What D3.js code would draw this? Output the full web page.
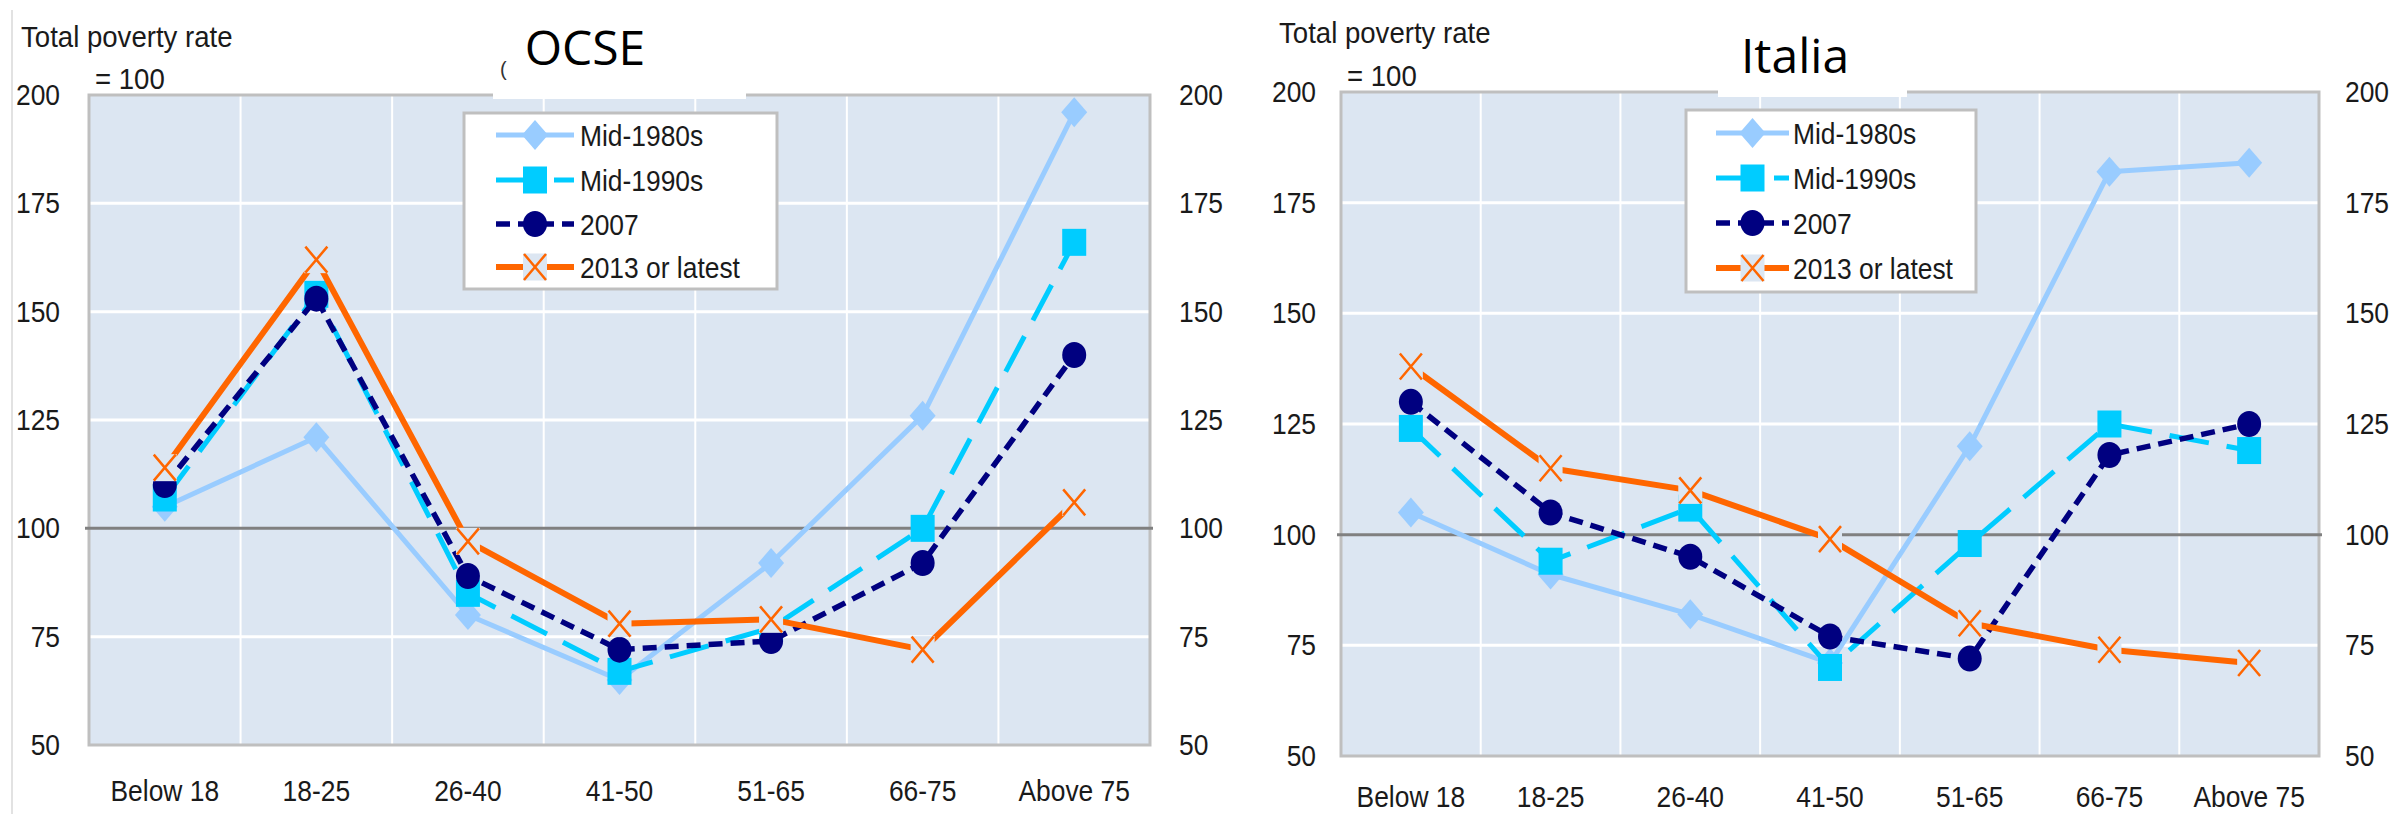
<!DOCTYPE html>
<html>
<head>
<meta charset="utf-8">
<script src="https://cdn.jsdelivr.net/npm/d3@7"></script>
<style>
  html, body { margin: 0; padding: 0; background: #ffffff; }
  svg { display: block; }
</style>
</head>
<body>
<svg id="chart" width="2390" height="814"></svg>
<script>
// ---------------- DATA ----------------
const categories = ["Below 18", "18-25", "26-40", "41-50", "51-65", "66-75", "Above 75"];
const seriesNames = ["Mid-1980s", "Mid-1990s", "2007", "2013 or latest"];
const yTicks = [50, 75, 100, 125, 150, 175, 200];

const ocse1980 = [105, 121, 80, 65, 92, 126, 196];
const ocse1990 = [107, 154, 85, 67, 77, 100, 166];
const ocse2007 = [110, 153, 89, 72, 74, 92, 140];
const ocse2013 = [114, 162, 97, 78, 79, 72, 106];

const ita1980 = [105, 91, 82, 71, 120, 182, 184];
const ita1990 = [124, 94, 106, 70, 98, 125, 119];
const ita2007 = [130, 105, 95, 77, 72, 118, 125];
const ita2013 = [138, 115, 110, 99, 80, 74, 71];

const panelTitles = ["OCSE", "Italia"];
const axisNote1 = "Total poverty rate";
const axisNote2 = "= 100";

// ---------------- STYLE ----------------
const FONT = "'Liberation Sans', Arial, sans-serif";
const FS = 30;
const SX = 0.88; // horizontal condensing of text
const TITLE_FONT = "'Open Sans', 'Noto Sans', sans-serif";
const TXT = "#1a1a1a";
const PLOT_BG = "#dce6f2";
const BORDER = "#bfbfbf";
const styles = [
  { color: "#99ccff", dash: null, marker: "diamond", width: 5 },
  { color: "#00ccff", dash: "40,18", marker: "square", width: 5 },
  { color: "#000080", dash: "14,8", marker: "circle", width: 5.5 },
  { color: "#ff6600", dash: null, marker: "x", width: 6 }
];

const panels = [
  { title: panelTitles[0], data: [ocse1980, ocse1990, ocse2007, ocse2013],
    x0: 89, x1: 1150, yTop: 95, yBot: 745,
    leftLabelX: 60, rightLabelX: 1179, catY: 801,
    noteX: 21, noteY: 47, note2X: 95, note2Y: 89,
    coverX0: 493, coverX1: 746, coverY1: 99, titleX: 585, titleY: 65,
    legX: 464, legY: 113, legW: 313, legH: 176, legRows: [135, 180, 224, 267],
    legLineX0: 496, legLineX1: 574, legTextX: 580 },
  { title: panelTitles[1], data: [ita1980, ita1990, ita2007, ita2013],
    x0: 1341, x1: 2319, yTop: 92, yBot: 756,
    leftLabelX: 1316, rightLabelX: 2345, catY: 807,
    noteX: 1279, noteY: 43, note2X: 1347, note2Y: 86,
    coverX0: 1718, coverX1: 1907, coverY1: 97, titleX: 1795, titleY: 73,
    legX: 1686, legY: 110, legW: 290, legH: 182, legRows: [133, 178, 223, 268],
    legLineX0: 1716, legLineX1: 1789, legTextX: 1793 }
];

const svg = d3.select("#chart");

function addText(g, x, y, str, size, dy, sx) {
  const t = g.append("g").attr("transform", `translate(${x},${y})`)
    .append("text").attr("x", 0).attr("y", 0)
    .attr("transform", `scale(${sx || SX},1)`)
    .attr("font-family", FONT).attr("font-size", size).attr("fill", TXT).text(str);
  if (dy) t.attr("dy", dy);
  return t;
}

// thin left frame line
svg.append("line").attr("x1", 12).attr("x2", 12).attr("y1", 10).attr("y2", 814)
  .attr("stroke", "#d9d9d9").attr("stroke-width", 1.5);

function drawMarker(g, type, color, cx, cy) {
  const m = g.append("g").attr("transform", `translate(${cx},${cy})`);
  if (type === "diamond") {
    m.append("path").attr("d", "M0,-15L13,0L0,15L-13,0Z").attr("fill", color);
  } else if (type === "square") {
    m.append("rect").attr("x", -12).attr("y", -13.5).attr("width", 24).attr("height", 27).attr("fill", color);
  } else if (type === "circle") {
    m.append("ellipse").attr("rx", 12).attr("ry", 13).attr("fill", color);
  } else if (type === "x") {
    m.append("rect").attr("x", -12).attr("y", -13.5).attr("width", 24).attr("height", 27).attr("fill", PLOT_BG);
    m.append("path").attr("d", "M-11,-13L11,13M-11,13L11,-13")
      .attr("stroke", color).attr("stroke-width", 2.5).attr("fill", "none");
  }
}

panels.forEach(p => {
  const g = svg.append("g");
  const x = d3.scaleBand().domain(categories).range([p.x0, p.x1]).padding(0);
  const y = d3.scaleLinear().domain([50, 200]).range([p.yBot, p.yTop]);

  // plot background
  g.append("rect").attr("x", p.x0).attr("y", p.yTop).attr("width", p.x1 - p.x0).attr("height", p.yBot - p.yTop)
    .attr("fill", PLOT_BG);

  // vertical gridlines (band boundaries)
  g.selectAll(".vg").data(categories.slice(1)).enter().append("line")
    .attr("x1", d => x(d)).attr("x2", d => x(d))
    .attr("y1", p.yTop).attr("y2", p.yBot)
    .attr("stroke", "#ffffff").attr("stroke-width", 2);

  // horizontal gridlines
  g.selectAll(".hg").data(yTicks.filter(t => t > 50 && t < 200 && t !== 100)).enter().append("line")
    .attr("x1", p.x0).attr("x2", p.x1)
    .attr("y1", d => y(d)).attr("y2", d => y(d))
    .attr("stroke", "#ffffff").attr("stroke-width", 3);

  // border
  g.append("rect").attr("x", p.x0).attr("y", p.yTop).attr("width", p.x1 - p.x0).attr("height", p.yBot - p.yTop)
    .attr("fill", "none").attr("stroke", BORDER).attr("stroke-width", 3);

  // reference line at 100
  g.append("line").attr("x1", p.x0 - 4).attr("x2", p.x1 + 3)
    .attr("y1", y(100)).attr("y2", y(100))
    .attr("stroke", "#808080").attr("stroke-width", 3);

  // axes labels (left & right)
  const axL = d3.axisLeft(y).tickValues(yTicks).tickSize(0).tickPadding(0);
  const gl = g.append("g").attr("transform", `translate(${p.leftLabelX},0)`).call(axL);
  const axR = d3.axisRight(y).tickValues(yTicks).tickSize(0).tickPadding(0);
  const gr = g.append("g").attr("transform", `translate(${p.rightLabelX},0)`).call(axR);
  [gl, gr].forEach(a => {
    a.select(".domain").remove();
    a.selectAll("text").attr("font-family", FONT).attr("font-size", FS).attr("fill", TXT)
      .attr("x", 0).attr("transform", `scale(${SX},1)`);
  });

  // category labels
  const axB = d3.axisBottom(x).tickSize(0).tickPadding(0);
  const gb = g.append("g").attr("transform", `translate(0,${p.catY})`).call(axB);
  gb.select(".domain").remove();
  gb.selectAll("text").attr("font-family", FONT).attr("font-size", FS).attr("fill", TXT)
    .attr("dy", null).attr("y", 0).attr("transform", `scale(${SX},1)`);

  // series
  p.data.forEach((vals, si) => {
    const st = styles[si];
    const line = d3.line().x((d, i) => x(categories[i]) + x.bandwidth() / 2).y(d => y(d));
    g.append("path").datum(vals).attr("d", line).attr("fill", "none")
      .attr("stroke", st.color).attr("stroke-width", st.width)
      .attr("stroke-dasharray", st.dash).attr("stroke-linejoin", "round");
    vals.forEach((v, i) => drawMarker(g, st.marker, st.color, x(categories[i]) + x.bandwidth() / 2, y(v)));
  });

  // title cover box & title
  g.append("rect").attr("x", p.coverX0).attr("y", 0).attr("width", p.coverX1 - p.coverX0).attr("height", p.coverY1)
    .attr("fill", "#ffffff");
  g.append("text").attr("x", p.titleX).attr("y", p.titleY).attr("text-anchor", "middle")
    .attr("font-family", TITLE_FONT).attr("font-size", 48).attr("fill", "#000").text(p.title);

  // axis note
  addText(g, p.noteX, p.noteY, axisNote1, 30, null, 0.92);
  addText(g, p.note2X, p.note2Y, axisNote2, 30, null, 0.92);

  // legend
  const lg = g.append("g");
  lg.append("rect").attr("x", p.legX).attr("y", p.legY).attr("width", p.legW).attr("height", p.legH)
    .attr("fill", "#ffffff").attr("stroke", BORDER).attr("stroke-width", 3);
  seriesNames.forEach((name, si) => {
    const st = styles[si];
    const ry = p.legRows[si];
    lg.append("line").attr("x1", p.legLineX0).attr("x2", p.legLineX1).attr("y1", ry).attr("y2", ry)
      .attr("stroke", st.color).attr("stroke-width", st.width).attr("stroke-dasharray", st.dash);
    drawMarker(lg, st.marker, st.color, (p.legLineX0 + p.legLineX1) / 2, ry);
    addText(lg, p.legTextX, ry, name, FS, "0.35em");
  });
});

// small remnant of the covered original title
svg.append("text").attr("x", 500).attr("y", 76).attr("font-family", FONT).attr("font-size", 20)
  .attr("fill", "#333").text("(");
</script>
</body>
</html>
